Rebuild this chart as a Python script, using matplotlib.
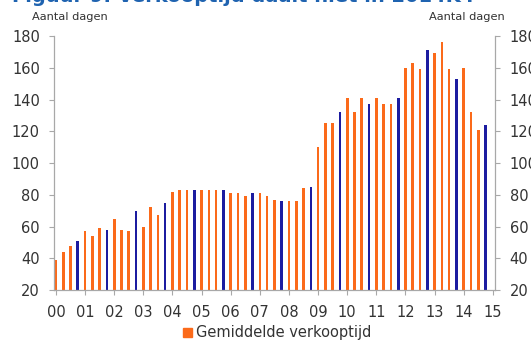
import matplotlib
matplotlib.use("Agg")
import matplotlib.pyplot as plt
from matplotlib.patches import Patch
import numpy as np

# gemiddelde verkooptijd (dagen), per kwartaal 2000K1 .. 2014K4
verkooptijd = [
    39, 44, 48, 51, 57, 54, 59, 58, 65, 58, 57, 70,
    60, 72, 67, 75, 82, 83, 83, 83, 83, 83, 83, 83,
    81, 81, 79, 81, 81, 79, 77, 76, 76, 76, 84, 85,
    110, 125, 125, 132, 141, 132, 141, 137, 141, 137, 137, 141,
    160, 163, 159, 171, 169, 176, 159, 153, 160, 132, 121, 124,
]
jaar_labels = ["00", "01", "02", "03", "04", "05", "06", "07",
               "08", "09", "10", "11", "12", "13", "14", "15"]
y_ticks = [20, 40, 60, 80, 100, 120, 140, 160, 180]

ORANJE = "#fb6a1a"
BLAUW = "#1c1ca0"
GRIJS = "#a8a8a8"
TEKST = "#333333"

n = len(verkooptijd)
x = np.arange(n) / 4.0
# vierde kwartaal in donkerblauw
kleuren = [BLAUW if i % 4 == 3 else ORANJE for i in range(n)]

fig = plt.figure(figsize=(5.31, 3.45), dpi=100)
ax = fig.add_axes([0.1026, 0.1594, 0.830, 0.7362])

ax.bar(x, np.array(verkooptijd) - 20, bottom=20, width=0.09,
       color=kleuren, linewidth=0)

ax.set_xlim(-0.05, 15.08)
ax.set_ylim(20, 180)
ax.set_xticks(np.arange(len(jaar_labels)))
ax.set_xticklabels(jaar_labels)
ax.set_yticks(y_ticks)
ax.tick_params(axis="y", which="both", left=True, right=True,
               labelleft=True, labelright=True, length=3.5, width=0.8,
               color=GRIJS, labelcolor=TEKST, labelsize=10.5, pad=7)
ax.tick_params(axis="x", length=3.5, width=0.8, color=GRIJS,
               labelcolor=TEKST, labelsize=10.5, pad=7)

for side in ("left", "right", "bottom"):
    ax.spines[side].set_color(GRIJS)
    ax.spines[side].set_linewidth(0.9)
ax.spines["top"].set_visible(False)

fig.text(0.0603, 0.95, "Aantal dagen", fontsize=8.2, color=TEKST,
         ha="left", va="center")
fig.text(0.951, 0.95, "Aantal dagen", fontsize=8.2, color=TEKST,
         ha="right", va="center")
fig.text(0.022, 0.994, "Figuur 9: Verkooptijd daalt niet in 2014K4",
         fontsize=14, fontweight="bold", color="#1f63b0",
         ha="left", va="baseline")

fig.legend(handles=[Patch(color=ORANJE, label="Gemiddelde verkooptijd")],
           loc="center", bbox_to_anchor=(0.5226, 0.0348), frameon=False,
           handlelength=0.6, handleheight=0.6, handletextpad=0.3,
           fontsize=10.5, labelcolor=TEKST)

fig.savefig("out.png", dpi=100)
